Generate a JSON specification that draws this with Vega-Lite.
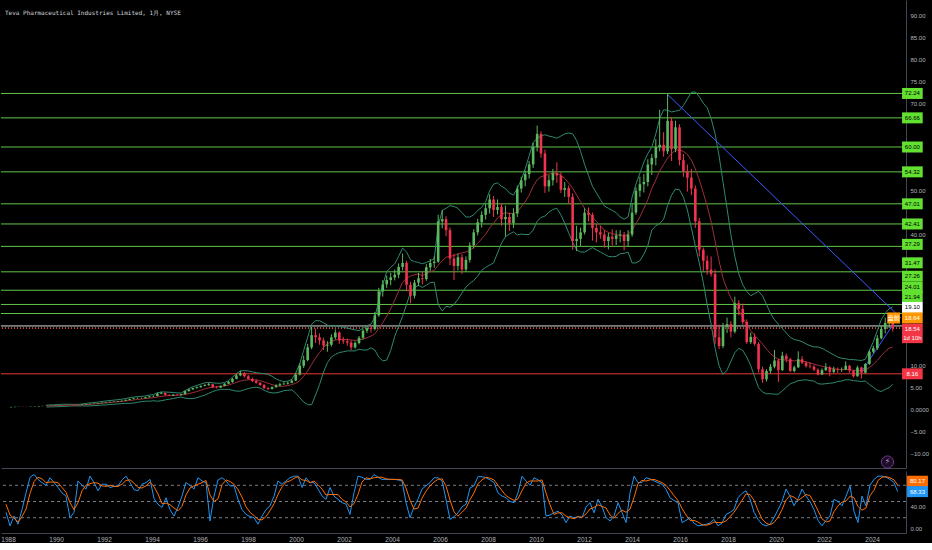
{
"$schema":"https://vega.github.io/schema/vega-lite/v6.json",
"background":"#000000",
"padding":0,
"spacing":0,
"config":{"view":{"stroke":null},"axis":{"grid":false,"ticks":false,"labelColor":"#b2b5be","labelFont":"Liberation Sans","labelFontSize":6,"domainColor":"#434651"}},
"datasets":{
"px":[
{"t":"1987-12","o":0.5,"h":0.62,"l":0.48,"c":0.55,"k":30,"d":45},
{"t":"1988-02","o":0.55,"h":0.64,"l":0.53,"c":0.6,"k":5,"d":25},
{"t":"1988-04","o":0.6,"h":0.66,"l":0.58,"c":0.62,"k":23,"d":19},
{"t":"1988-06","o":0.62,"h":0.64,"l":0.57,"c":0.6,"k":8,"d":12},
{"t":"1988-08","o":0.6,"h":0.63,"l":0.57,"c":0.6,"k":35,"d":22},
{"t":"1988-10","o":0.6,"h":0.67,"l":0.59,"c":0.65,"k":66,"d":36},
{"t":"1988-12","o":0.65,"h":0.73,"l":0.64,"c":0.7,"k":95,"d":65},
{"t":"1989-02","o":0.7,"h":0.8,"l":0.69,"c":0.78,"k":100,"d":87},
{"t":"1989-04","o":0.78,"h":0.84,"l":0.76,"c":0.82,"k":91,"d":95},
{"t":"1989-06","o":0.82,"h":0.89,"l":0.8,"c":0.87,"u":1.0,"m":0.78,"b":0.56,"k":85,"d":92},
{"t":"1989-08","o":0.87,"h":0.94,"l":0.85,"c":0.92,"u":1.05,"m":0.82,"b":0.6,"k":80,"d":85},
{"t":"1989-10","o":0.92,"h":0.99,"l":0.9,"c":0.97,"u":1.1,"m":0.86,"b":0.62,"k":94,"d":86},
{"t":"1989-12","o":0.97,"h":1.03,"l":0.95,"c":1.0,"u":1.15,"m":0.9,"b":0.65,"k":85,"d":86},
{"t":"1990-02","o":1.0,"h":1.05,"l":0.97,"c":1.02,"u":1.2,"m":0.94,"b":0.68,"k":76,"d":85},
{"t":"1990-04","o":1.02,"h":1.09,"l":1.0,"c":1.06,"u":1.2,"m":0.97,"b":0.74,"k":66,"d":76},
{"t":"1990-06","o":1.06,"h":1.12,"l":1.03,"c":1.08,"u":1.2,"m":1.0,"b":0.8,"k":60,"d":67},
{"t":"1990-08","o":1.08,"h":1.1,"l":0.95,"c":0.98,"u":1.18,"m":1.0,"b":0.82,"k":20,"d":48},
{"t":"1990-10","o":0.98,"h":1.05,"l":0.95,"c":1.02,"u":1.18,"m":1.01,"b":0.84,"k":30,"d":35},
{"t":"1990-12","o":1.02,"h":1.18,"l":1.0,"c":1.15,"u":1.25,"m":1.04,"b":0.83,"k":88,"d":48},
{"t":"1991-02","o":1.15,"h":1.28,"l":1.12,"c":1.25,"u":1.4,"m":1.1,"b":0.8,"k":80,"d":70},
{"t":"1991-04","o":1.25,"h":1.34,"l":1.2,"c":1.3,"u":1.5,"m":1.17,"b":0.84,"k":73,"d":80},
{"t":"1991-06","o":1.3,"h":1.4,"l":1.27,"c":1.35,"u":1.6,"m":1.24,"b":0.88,"k":97,"d":83},
{"t":"1991-08","o":1.35,"h":1.5,"l":1.32,"c":1.45,"u":1.7,"m":1.32,"b":0.94,"k":85,"d":85},
{"t":"1991-10","o":1.45,"h":1.6,"l":1.4,"c":1.55,"u":1.82,"m":1.42,"b":1.02,"k":70,"d":84},
{"t":"1991-12","o":1.55,"h":1.7,"l":1.5,"c":1.65,"u":1.95,"m":1.5,"b":1.05,"k":82,"d":79},
{"t":"1992-02","o":1.65,"h":1.8,"l":1.6,"c":1.75,"u":2.05,"m":1.6,"b":1.15,"k":82,"d":78},
{"t":"1992-04","o":1.75,"h":1.86,"l":1.68,"c":1.8,"u":2.15,"m":1.68,"b":1.2,"k":76,"d":80},
{"t":"1992-06","o":1.8,"h":1.96,"l":1.75,"c":1.9,"u":2.25,"m":1.76,"b":1.27,"k":78,"d":78},
{"t":"1992-08","o":1.9,"h":2.08,"l":1.85,"c":2.0,"u":2.35,"m":1.85,"b":1.35,"k":79,"d":78},
{"t":"1992-10","o":2.0,"h":2.28,"l":1.95,"c":2.2,"u":2.5,"m":1.95,"b":1.4,"k":90,"d":82},
{"t":"1992-12","o":2.2,"h":2.5,"l":2.15,"c":2.4,"u":2.7,"m":2.05,"b":1.4,"k":97,"d":89},
{"t":"1993-02","o":2.4,"h":2.68,"l":2.32,"c":2.55,"u":2.85,"m":2.17,"b":1.5,"k":85,"d":90},
{"t":"1993-04","o":2.55,"h":2.75,"l":2.45,"c":2.6,"u":2.95,"m":2.3,"b":1.65,"k":72,"d":84},
{"t":"1993-06","o":2.6,"h":2.72,"l":2.45,"c":2.6,"u":3.0,"m":2.4,"b":1.8,"k":70,"d":76},
{"t":"1993-08","o":2.6,"h":2.9,"l":2.55,"c":2.8,"u":3.1,"m":2.5,"b":1.9,"k":82,"d":75},
{"t":"1993-10","o":2.8,"h":3.1,"l":2.75,"c":3.0,"u":3.3,"m":2.6,"b":1.9,"k":85,"d":79},
{"t":"1993-12","o":3.0,"h":3.25,"l":2.9,"c":3.1,"u":3.4,"m":2.7,"b":2.0,"k":91,"d":86},
{"t":"1994-02","o":3.1,"h":3.9,"l":3.0,"c":3.6,"u":3.8,"m":2.85,"b":1.9,"k":55,"d":77},
{"t":"1994-04","o":3.6,"h":4.05,"l":3.5,"c":3.8,"u":4.0,"m":3.0,"b":2.0,"k":45,"d":64},
{"t":"1994-06","o":3.8,"h":3.85,"l":3.2,"c":3.3,"u":4.0,"m":3.1,"b":2.2,"k":39,"d":46},
{"t":"1994-08","o":3.3,"h":3.5,"l":3.1,"c":3.2,"u":3.95,"m":3.15,"b":2.35,"k":57,"d":47},
{"t":"1994-10","o":3.2,"h":3.55,"l":3.1,"c":3.4,"u":3.9,"m":3.2,"b":2.5,"k":35,"d":44},
{"t":"1994-12","o":3.4,"h":3.5,"l":3.2,"c":3.3,"u":3.8,"m":3.25,"b":2.7,"k":23,"d":38},
{"t":"1995-02","o":3.3,"h":3.6,"l":3.2,"c":3.5,"u":3.75,"m":3.3,"b":2.85,"k":40,"d":33},
{"t":"1995-04","o":3.5,"h":4.3,"l":3.45,"c":4.2,"u":4.3,"m":3.45,"b":2.6,"k":60,"d":41},
{"t":"1995-06","o":4.2,"h":4.7,"l":4.1,"c":4.6,"u":4.8,"m":3.65,"b":2.5,"k":85,"d":62},
{"t":"1995-08","o":4.6,"h":5.0,"l":4.5,"c":4.9,"u":5.2,"m":3.85,"b":2.5,"k":80,"d":75},
{"t":"1995-10","o":4.9,"h":5.3,"l":4.8,"c":5.1,"u":5.5,"m":4.1,"b":2.7,"k":73,"d":79},
{"t":"1995-12","o":5.1,"h":5.5,"l":5.0,"c":5.4,"u":5.8,"m":4.4,"b":3.0,"k":94,"d":82},
{"t":"1996-02","o":5.4,"h":5.8,"l":5.3,"c":5.6,"u":6.1,"m":4.7,"b":3.3,"k":88,"d":85},
{"t":"1996-04","o":5.6,"h":6.1,"l":5.4,"c":5.8,"u":6.2,"m":4.95,"b":3.7,"k":85,"d":89},
{"t":"1996-06","o":5.8,"h":5.9,"l":4.9,"c":5.1,"u":6.1,"m":5.1,"b":4.1,"k":14,"d":62},
{"t":"1996-08","o":5.1,"h":5.3,"l":4.8,"c":5.0,"u":6.0,"m":5.2,"b":4.4,"k":60,"d":50},
{"t":"1996-10","o":5.0,"h":5.5,"l":4.9,"c":5.4,"u":6.0,"m":5.3,"b":4.6,"k":90,"d":55},
{"t":"1996-12","o":5.4,"h":6.0,"l":5.3,"c":5.9,"u":6.2,"m":5.4,"b":4.6,"k":94,"d":81},
{"t":"1997-02","o":5.9,"h":6.5,"l":5.8,"c":6.3,"u":6.6,"m":5.6,"b":4.6,"k":88,"d":90},
{"t":"1997-04","o":6.3,"h":7.2,"l":6.1,"c":7.0,"u":7.4,"m":5.9,"b":4.4,"k":79,"d":87},
{"t":"1997-06","o":7.0,"h":8.1,"l":6.9,"c":7.8,"u":8.2,"m":6.2,"b":4.2,"k":79,"d":82},
{"t":"1997-08","o":7.8,"h":8.9,"l":7.6,"c":8.3,"u":8.8,"m":6.5,"b":4.2,"k":54,"d":72},
{"t":"1997-10","o":8.3,"h":8.6,"l":7.3,"c":7.6,"u":8.9,"m":6.7,"b":4.5,"k":35,"d":58},
{"t":"1997-12","o":7.6,"h":7.9,"l":6.8,"c":7.0,"u":8.8,"m":6.8,"b":4.8,"k":26,"d":40},
{"t":"1998-02","o":7.0,"h":7.3,"l":6.3,"c":6.5,"u":8.6,"m":6.8,"b":5.0,"k":22,"d":30},
{"t":"1998-04","o":6.5,"h":6.9,"l":5.9,"c":6.1,"u":8.4,"m":6.75,"b":5.1,"k":20,"d":24},
{"t":"1998-06","o":6.1,"h":6.3,"l":5.4,"c":5.6,"u":8.3,"m":6.6,"b":4.9,"k":8,"d":17},
{"t":"1998-08","o":5.6,"h":5.8,"l":4.7,"c":4.9,"u":8.2,"m":6.3,"b":4.4,"k":23,"d":16},
{"t":"1998-10","o":4.9,"h":5.2,"l":4.4,"c":4.7,"u":8.0,"m":6.0,"b":4.0,"k":35,"d":22},
{"t":"1998-12","o":4.7,"h":5.3,"l":4.6,"c":5.1,"u":7.6,"m":5.7,"b":3.8,"k":42,"d":33},
{"t":"1999-02","o":5.1,"h":5.8,"l":5.0,"c":5.5,"u":7.0,"m":5.4,"b":3.8,"k":60,"d":46},
{"t":"1999-04","o":5.5,"h":6.1,"l":5.3,"c":5.8,"u":6.6,"m":5.3,"b":4.0,"k":88,"d":63},
{"t":"1999-06","o":5.8,"h":6.3,"l":5.6,"c":5.9,"u":6.4,"m":5.35,"b":4.3,"k":82,"d":77},
{"t":"1999-08","o":5.9,"h":6.4,"l":5.7,"c":6.1,"u":6.5,"m":5.45,"b":4.4,"k":88,"d":86},
{"t":"1999-10","o":6.1,"h":6.9,"l":6.0,"c":6.6,"u":6.9,"m":5.7,"b":4.5,"k":94,"d":88},
{"t":"1999-12","o":6.6,"h":8.4,"l":6.5,"c":8.0,"u":8.3,"m":6.0,"b":3.7,"k":97,"d":93},
{"t":"2000-02","o":8.0,"h":10.6,"l":7.8,"c":10.0,"u":10.5,"m":6.6,"b":2.7,"k":97,"d":96},
{"t":"2000-04","o":10.0,"h":12.3,"l":9.5,"c":11.3,"u":13.5,"m":7.6,"b":1.7,"k":76,"d":90},
{"t":"2000-06","o":11.3,"h":15.0,"l":11.0,"c":14.2,"u":16.5,"m":8.8,"b":1.1,"k":94,"d":89},
{"t":"2000-08","o":14.2,"h":18.9,"l":13.8,"c":17.0,"u":19.5,"m":10.3,"b":1.1,"k":85,"d":85},
{"t":"2000-10","o":17.0,"h":18.5,"l":15.2,"c":16.5,"u":20.3,"m":11.8,"b":3.3,"k":85,"d":88},
{"t":"2000-12","o":16.5,"h":17.4,"l":14.8,"c":15.8,"u":20.3,"m":13.0,"b":5.7,"k":73,"d":81},
{"t":"2001-02","o":15.8,"h":16.4,"l":13.6,"c":14.6,"u":19.8,"m":14.2,"b":8.6,"k":60,"d":73},
{"t":"2001-04","o":14.6,"h":15.6,"l":13.2,"c":14.8,"u":19.3,"m":15.0,"b":10.7,"k":54,"d":62},
{"t":"2001-06","o":14.8,"h":17.2,"l":14.4,"c":16.5,"u":19.0,"m":15.5,"b":12.0,"k":76,"d":63},
{"t":"2001-08","o":16.5,"h":18.3,"l":16.0,"c":17.6,"u":19.2,"m":15.9,"b":12.6,"k":60,"d":63},
{"t":"2001-10","o":17.6,"h":17.9,"l":15.0,"c":15.8,"u":19.0,"m":16.0,"b":13.0,"k":54,"d":63},
{"t":"2001-12","o":15.8,"h":16.6,"l":15.0,"c":15.6,"u":18.8,"m":16.0,"b":13.2,"k":48,"d":54},
{"t":"2002-02","o":15.6,"h":16.2,"l":14.6,"c":15.3,"u":18.6,"m":16.0,"b":13.4,"k":45,"d":49},
{"t":"2002-04","o":15.3,"h":15.8,"l":13.6,"c":14.2,"u":18.4,"m":15.9,"b":13.4,"k":26,"d":40},
{"t":"2002-06","o":14.2,"h":15.6,"l":13.9,"c":15.2,"u":18.2,"m":15.8,"b":13.4,"k":66,"d":46},
{"t":"2002-08","o":15.2,"h":16.8,"l":14.9,"c":16.4,"u":18.0,"m":15.9,"b":13.8,"k":97,"d":63},
{"t":"2002-10","o":16.4,"h":18.4,"l":16.0,"c":18.0,"u":18.6,"m":16.1,"b":13.6,"k":95,"d":86},
{"t":"2002-12","o":18.0,"h":19.2,"l":17.5,"c":18.6,"u":19.2,"m":16.4,"b":13.6,"k":91,"d":94},
{"t":"2003-02","o":18.6,"h":19.3,"l":17.6,"c":18.4,"u":19.5,"m":16.8,"b":14.1,"k":91,"d":92},
{"t":"2003-04","o":18.4,"h":22.3,"l":18.1,"c":21.5,"u":21.0,"m":17.3,"b":13.6,"k":100,"d":94},
{"t":"2003-06","o":21.5,"h":27.8,"l":21.2,"c":27.0,"u":25.0,"m":18.5,"b":12.0,"k":95,"d":95},
{"t":"2003-08","o":27.0,"h":29.6,"l":25.8,"c":28.6,"u":28.5,"m":19.8,"b":11.1,"k":91,"d":95},
{"t":"2003-10","o":28.6,"h":30.6,"l":27.8,"c":29.6,"u":31.5,"m":21.4,"b":11.3,"k":91,"d":92},
{"t":"2003-12","o":29.6,"h":31.2,"l":28.4,"c":30.2,"u":32.5,"m":23.0,"b":13.5,"k":91,"d":91},
{"t":"2004-02","o":30.2,"h":32.0,"l":29.5,"c":30.8,"u":33.3,"m":25.0,"b":16.7,"k":91,"d":91},
{"t":"2004-04","o":30.8,"h":33.4,"l":30.0,"c":32.6,"u":35.0,"m":27.0,"b":19.0,"k":90,"d":91},
{"t":"2004-06","o":32.6,"h":35.6,"l":31.8,"c":33.5,"u":36.9,"m":29.1,"b":21.3,"k":88,"d":90},
{"t":"2004-08","o":33.5,"h":34.0,"l":27.0,"c":28.5,"u":36.0,"m":30.0,"b":24.0,"k":48,"d":75},
{"t":"2004-10","o":28.5,"h":29.2,"l":24.3,"c":26.0,"u":34.2,"m":30.5,"b":26.8,"k":20,"d":52},
{"t":"2004-12","o":26.0,"h":29.6,"l":25.4,"c":29.0,"u":33.8,"m":30.8,"b":27.8,"k":40,"d":36},
{"t":"2005-02","o":29.0,"h":31.2,"l":28.2,"c":30.0,"u":33.6,"m":31.0,"b":28.4,"k":55,"d":38},
{"t":"2005-04","o":30.0,"h":31.5,"l":28.6,"c":29.8,"u":33.3,"m":30.6,"b":27.9,"k":73,"d":56},
{"t":"2005-06","o":29.8,"h":33.2,"l":29.4,"c":32.5,"u":33.6,"m":31.0,"b":28.4,"k":79,"d":69},
{"t":"2005-08","o":32.5,"h":34.4,"l":31.6,"c":33.5,"u":34.0,"m":31.5,"b":29.0,"k":85,"d":79},
{"t":"2005-10","o":33.5,"h":35.0,"l":32.4,"c":33.8,"u":34.5,"m":31.8,"b":29.1,"k":94,"d":86},
{"t":"2005-12","o":33.8,"h":44.5,"l":33.5,"c":43.0,"u":42.0,"m":33.0,"b":24.0,"k":94,"d":91},
{"t":"2006-02","o":43.0,"h":45.6,"l":41.4,"c":43.5,"u":45.5,"m":34.0,"b":22.5,"k":88,"d":92},
{"t":"2006-04","o":43.5,"h":44.2,"l":39.6,"c":41.0,"u":46.0,"m":34.8,"b":23.6,"k":54,"d":79},
{"t":"2006-06","o":41.0,"h":41.6,"l":33.0,"c":34.5,"u":46.6,"m":35.0,"b":23.4,"k":17,"d":53},
{"t":"2006-08","o":34.5,"h":35.6,"l":29.6,"c":32.8,"u":46.4,"m":35.2,"b":24.0,"k":22,"d":31},
{"t":"2006-10","o":32.8,"h":35.6,"l":31.8,"c":34.8,"u":46.0,"m":35.6,"b":25.2,"k":29,"d":23},
{"t":"2006-12","o":34.8,"h":35.5,"l":31.0,"c":32.0,"u":45.0,"m":35.8,"b":26.6,"k":40,"d":30},
{"t":"2007-02","o":32.0,"h":35.0,"l":31.4,"c":34.2,"u":44.0,"m":36.0,"b":28.0,"k":45,"d":38},
{"t":"2007-04","o":34.2,"h":38.2,"l":33.6,"c":37.5,"u":44.0,"m":36.4,"b":28.8,"k":75,"d":53},
{"t":"2007-06","o":37.5,"h":41.2,"l":36.8,"c":40.5,"u":44.5,"m":37.0,"b":29.5,"k":79,"d":66},
{"t":"2007-08","o":40.5,"h":43.6,"l":39.8,"c":42.8,"u":45.5,"m":38.0,"b":30.5,"k":96,"d":83},
{"t":"2007-10","o":42.8,"h":45.3,"l":41.6,"c":44.5,"u":46.2,"m":39.0,"b":31.8,"k":96,"d":90},
{"t":"2007-12","o":44.5,"h":47.0,"l":43.4,"c":46.0,"u":47.5,"m":40.0,"b":32.5,"k":94,"d":95},
{"t":"2008-02","o":46.0,"h":49.2,"l":44.8,"c":48.0,"u":50.0,"m":41.5,"b":33.0,"k":90,"d":93},
{"t":"2008-04","o":48.0,"h":48.8,"l":44.0,"c":45.6,"u":51.5,"m":42.5,"b":33.5,"k":85,"d":90},
{"t":"2008-06","o":45.6,"h":48.0,"l":44.6,"c":46.3,"u":51.8,"m":43.8,"b":35.8,"k":66,"d":80},
{"t":"2008-08","o":46.3,"h":47.2,"l":42.0,"c":43.5,"u":51.0,"m":44.5,"b":38.0,"k":60,"d":70},
{"t":"2008-10","o":43.5,"h":46.6,"l":39.5,"c":44.0,"u":50.5,"m":45.0,"b":39.5,"k":57,"d":61},
{"t":"2008-12","o":44.0,"h":45.0,"l":40.8,"c":42.6,"u":49.5,"m":44.8,"b":40.1,"k":50,"d":56},
{"t":"2009-02","o":42.6,"h":46.0,"l":41.5,"c":44.8,"u":49.0,"m":44.8,"b":40.6,"k":48,"d":52},
{"t":"2009-04","o":44.8,"h":51.2,"l":44.0,"c":50.5,"u":50.5,"m":45.2,"b":39.9,"k":66,"d":55},
{"t":"2009-06","o":50.5,"h":53.2,"l":49.6,"c":52.4,"u":52.5,"m":46.3,"b":40.1,"k":97,"d":70},
{"t":"2009-08","o":52.4,"h":54.6,"l":51.0,"c":53.8,"u":55.0,"m":47.5,"b":40.0,"k":88,"d":84},
{"t":"2009-10","o":53.8,"h":56.8,"l":52.8,"c":56.0,"u":58.0,"m":49.0,"b":40.0,"k":80,"d":88},
{"t":"2009-12","o":56.0,"h":61.0,"l":55.2,"c":60.0,"u":61.0,"m":51.0,"b":41.0,"k":94,"d":88},
{"t":"2010-02","o":60.0,"h":64.9,"l":59.0,"c":63.0,"u":62.0,"m":52.5,"b":43.0,"k":90,"d":88},
{"t":"2010-04","o":63.0,"h":63.6,"l":57.5,"c":58.5,"u":62.5,"m":53.2,"b":43.9,"k":85,"d":90},
{"t":"2010-06","o":58.5,"h":59.4,"l":49.5,"c":51.0,"u":62.8,"m":53.5,"b":44.2,"k":23,"d":66},
{"t":"2010-08","o":51.0,"h":53.6,"l":49.8,"c":52.4,"u":62.5,"m":53.8,"b":45.1,"k":25,"d":44},
{"t":"2010-10","o":52.4,"h":55.0,"l":51.2,"c":54.0,"u":62.3,"m":54.0,"b":45.7,"k":29,"d":26},
{"t":"2010-12","o":54.0,"h":56.5,"l":51.8,"c":53.5,"u":62.0,"m":54.0,"b":46.0,"k":32,"d":29},
{"t":"2011-02","o":53.5,"h":54.2,"l":49.5,"c":50.2,"u":62.5,"m":53.5,"b":44.5,"k":25,"d":29},
{"t":"2011-04","o":50.2,"h":52.0,"l":48.6,"c":50.6,"u":63.0,"m":52.8,"b":42.6,"k":11,"d":23},
{"t":"2011-06","o":50.6,"h":51.2,"l":47.0,"c":48.6,"u":63.2,"m":51.8,"b":40.4,"k":23,"d":20},
{"t":"2011-08","o":48.6,"h":49.4,"l":36.5,"c":38.5,"u":63.0,"m":50.6,"b":38.2,"k":20,"d":18},
{"t":"2011-10","o":38.5,"h":42.0,"l":36.2,"c":39.0,"u":61.5,"m":49.0,"b":36.5,"k":22,"d":22},
{"t":"2011-12","o":39.0,"h":41.6,"l":37.4,"c":40.5,"u":59.0,"m":47.5,"b":36.0,"k":20,"d":21},
{"t":"2012-02","o":40.5,"h":46.0,"l":40.0,"c":45.0,"u":56.0,"m":46.0,"b":36.0,"k":40,"d":27},
{"t":"2012-04","o":45.0,"h":46.2,"l":43.0,"c":44.5,"u":53.5,"m":45.0,"b":36.5,"k":48,"d":36},
{"t":"2012-06","o":44.5,"h":45.0,"l":38.6,"c":41.5,"u":51.0,"m":44.0,"b":37.0,"k":29,"d":39},
{"t":"2012-08","o":41.5,"h":42.4,"l":38.2,"c":40.5,"u":49.5,"m":43.0,"b":36.5,"k":54,"d":44},
{"t":"2012-10","o":40.5,"h":42.0,"l":39.0,"c":40.0,"u":48.0,"m":42.0,"b":36.0,"k":40,"d":41},
{"t":"2012-12","o":40.0,"h":41.0,"l":37.0,"c":38.5,"u":46.5,"m":41.0,"b":35.5,"k":20,"d":38},
{"t":"2013-02","o":38.5,"h":40.4,"l":36.6,"c":39.5,"u":46.0,"m":40.5,"b":35.0,"k":14,"d":25},
{"t":"2013-04","o":39.5,"h":41.2,"l":37.5,"c":39.0,"u":45.5,"m":40.2,"b":34.9,"k":23,"d":19},
{"t":"2013-06","o":39.0,"h":41.0,"l":37.6,"c":39.8,"u":45.0,"m":40.0,"b":35.0,"k":48,"d":28},
{"t":"2013-08","o":39.8,"h":41.0,"l":38.2,"c":40.0,"u":44.0,"m":39.8,"b":35.6,"k":30,"d":34},
{"t":"2013-10","o":40.0,"h":40.6,"l":36.4,"c":38.5,"u":43.5,"m":39.6,"b":35.7,"k":11,"d":30},
{"t":"2013-12","o":38.5,"h":41.0,"l":37.2,"c":40.0,"u":44.0,"m":40.0,"b":36.0,"k":66,"d":36},
{"t":"2014-02","o":40.0,"h":47.0,"l":39.5,"c":45.0,"u":48.5,"m":41.0,"b":33.5,"k":97,"d":58},
{"t":"2014-04","o":45.0,"h":50.8,"l":44.5,"c":50.0,"u":51.5,"m":42.5,"b":33.5,"k":85,"d":83},
{"t":"2014-06","o":50.0,"h":53.2,"l":48.6,"c":51.5,"u":54.0,"m":44.0,"b":34.0,"k":85,"d":89},
{"t":"2014-08","o":51.5,"h":53.8,"l":49.6,"c":52.0,"u":56.5,"m":46.0,"b":35.5,"k":94,"d":88},
{"t":"2014-10","o":52.0,"h":57.2,"l":51.0,"c":56.0,"u":58.5,"m":48.0,"b":37.5,"k":92,"d":90},
{"t":"2014-12","o":56.0,"h":58.4,"l":53.6,"c":57.5,"u":60.0,"m":50.5,"b":41.0,"k":88,"d":91},
{"t":"2015-02","o":57.5,"h":61.8,"l":55.8,"c":60.0,"u":63.0,"m":52.5,"b":42.0,"k":85,"d":88},
{"t":"2015-04","o":60.0,"h":68.5,"l":59.0,"c":60.5,"u":66.5,"m":54.5,"b":42.5,"k":82,"d":85},
{"t":"2015-06","o":60.5,"h":63.4,"l":57.8,"c":59.0,"u":68.5,"m":56.0,"b":43.5,"k":73,"d":80},
{"t":"2015-08","o":59.0,"h":72.24,"l":58.4,"c":66.0,"u":68.4,"m":57.5,"b":46.6,"k":57,"d":71},
{"t":"2015-10","o":66.0,"h":66.8,"l":56.8,"c":59.5,"u":68.0,"m":58.5,"b":49.0,"k":52,"d":61},
{"t":"2015-12","o":59.5,"h":66.0,"l":58.8,"c":64.5,"u":68.2,"m":59.3,"b":50.4,"k":48,"d":52},
{"t":"2016-02","o":64.5,"h":65.2,"l":55.8,"c":57.0,"u":68.4,"m":59.3,"b":50.2,"k":11,"d":37},
{"t":"2016-04","o":57.0,"h":58.4,"l":53.2,"c":54.5,"u":69.5,"m":59.0,"b":48.5,"k":15,"d":25},
{"t":"2016-06","o":54.5,"h":56.0,"l":49.8,"c":53.0,"u":71.0,"m":58.3,"b":45.6,"k":20,"d":15},
{"t":"2016-08","o":53.0,"h":55.0,"l":49.0,"c":50.5,"u":72.5,"m":57.0,"b":41.5,"k":10,"d":15},
{"t":"2016-10","o":50.5,"h":51.2,"l":41.5,"c":43.0,"u":72.6,"m":55.0,"b":37.4,"k":5,"d":12},
{"t":"2016-12","o":43.0,"h":43.8,"l":35.0,"c":36.5,"u":71.5,"m":52.5,"b":33.5,"k":6,"d":7},
{"t":"2017-02","o":36.5,"h":37.0,"l":31.6,"c":34.0,"u":70.0,"m":49.5,"b":29.0,"k":8,"d":6},
{"t":"2017-04","o":34.0,"h":35.2,"l":30.8,"c":32.0,"u":69.0,"m":46.5,"b":24.0,"k":10,"d":8},
{"t":"2017-06","o":32.0,"h":35.0,"l":30.4,"c":31.0,"u":66.5,"m":43.0,"b":19.5,"k":17,"d":12},
{"t":"2017-08","o":31.0,"h":32.0,"l":15.0,"c":16.5,"u":63.0,"m":38.5,"b":14.0,"k":5,"d":11},
{"t":"2017-10","o":16.5,"h":19.4,"l":13.8,"c":14.5,"u":58.0,"m":34.0,"b":10.0,"k":10,"d":11},
{"t":"2017-12","o":14.5,"h":19.8,"l":14.0,"c":18.9,"u":52.0,"m":30.0,"b":8.0,"k":26,"d":14},
{"t":"2018-02","o":18.9,"h":21.0,"l":17.5,"c":19.5,"u":46.0,"m":27.5,"b":9.0,"k":30,"d":22},
{"t":"2018-04","o":19.5,"h":20.2,"l":16.5,"c":17.8,"u":40.0,"m":25.5,"b":11.0,"k":35,"d":30},
{"t":"2018-06","o":17.8,"h":25.8,"l":17.4,"c":24.3,"u":35.0,"m":24.0,"b":13.0,"k":57,"d":41},
{"t":"2018-08","o":24.3,"h":25.0,"l":21.5,"c":23.0,"u":31.0,"m":22.5,"b":14.0,"k":65,"d":52},
{"t":"2018-10","o":23.0,"h":24.2,"l":19.4,"c":20.0,"u":28.5,"m":21.0,"b":13.5,"k":70,"d":64},
{"t":"2018-12","o":20.0,"h":20.6,"l":15.0,"c":15.4,"u":27.0,"m":19.5,"b":12.0,"k":55,"d":63},
{"t":"2019-02","o":15.4,"h":17.6,"l":15.0,"c":16.6,"u":26.0,"m":18.0,"b":10.0,"k":30,"d":52},
{"t":"2019-04","o":16.6,"h":17.4,"l":14.6,"c":15.0,"u":26.5,"m":17.0,"b":7.5,"k":17,"d":34},
{"t":"2019-06","o":15.0,"h":15.4,"l":8.5,"c":9.2,"u":27.0,"m":16.0,"b":5.0,"k":8,"d":18},
{"t":"2019-08","o":9.2,"h":9.8,"l":6.1,"c":6.9,"u":26.0,"m":15.0,"b":4.0,"k":5,"d":10},
{"t":"2019-10","o":6.9,"h":9.2,"l":6.4,"c":8.8,"u":24.0,"m":13.8,"b":3.6,"k":8,"d":7},
{"t":"2019-12","o":8.8,"h":10.4,"l":8.2,"c":9.8,"u":22.0,"m":12.8,"b":3.6,"k":20,"d":11},
{"t":"2020-02","o":9.8,"h":13.6,"l":9.4,"c":11.2,"u":20.5,"m":12.0,"b":3.5,"k":35,"d":21},
{"t":"2020-04","o":11.2,"h":11.6,"l":6.3,"c":9.0,"u":19.5,"m":11.5,"b":3.5,"k":50,"d":35},
{"t":"2020-06","o":9.0,"h":13.2,"l":8.8,"c":12.3,"u":18.5,"m":11.4,"b":4.3,"k":73,"d":53},
{"t":"2020-08","o":12.3,"h":12.8,"l":10.8,"c":11.5,"u":17.5,"m":11.3,"b":5.1,"k":60,"d":61},
{"t":"2020-10","o":11.5,"h":11.8,"l":8.6,"c":8.8,"u":16.5,"m":11.2,"b":5.9,"k":42,"d":58},
{"t":"2020-12","o":8.8,"h":10.0,"l":8.5,"c":9.65,"u":16.0,"m":11.1,"b":6.2,"k":55,"d":52},
{"t":"2021-02","o":9.65,"h":13.3,"l":9.5,"c":11.5,"u":15.8,"m":11.2,"b":6.6,"k":73,"d":57},
{"t":"2021-04","o":11.5,"h":12.2,"l":10.4,"c":10.7,"u":15.5,"m":11.1,"b":6.7,"k":60,"d":63},
{"t":"2021-06","o":10.7,"h":11.0,"l":9.6,"c":9.9,"u":15.0,"m":10.9,"b":6.8,"k":50,"d":61},
{"t":"2021-08","o":9.9,"h":10.8,"l":9.4,"c":9.8,"u":14.6,"m":10.6,"b":6.6,"k":35,"d":48},
{"t":"2021-10","o":9.8,"h":10.2,"l":8.8,"c":9.1,"u":14.3,"m":10.4,"b":6.5,"k":15,"d":33},
{"t":"2021-12","o":9.1,"h":9.4,"l":7.8,"c":8.0,"u":14.3,"m":10.1,"b":5.9,"k":5,"d":18},
{"t":"2022-02","o":8.0,"h":9.4,"l":7.9,"c":9.0,"u":14.0,"m":9.9,"b":5.8,"k":15,"d":12},
{"t":"2022-04","o":9.0,"h":10.6,"l":8.8,"c":9.6,"u":13.5,"m":9.7,"b":5.9,"k":23,"d":14},
{"t":"2022-06","o":9.6,"h":9.9,"l":7.6,"c":8.6,"u":13.0,"m":9.5,"b":6.0,"k":54,"d":31},
{"t":"2022-08","o":8.6,"h":9.8,"l":8.3,"c":9.2,"u":12.5,"m":9.3,"b":6.1,"k":50,"d":42},
{"t":"2022-10","o":9.2,"h":9.6,"l":8.4,"c":9.1,"u":12.0,"m":9.2,"b":6.4,"k":42,"d":49},
{"t":"2022-12","o":9.1,"h":9.6,"l":8.6,"c":9.1,"u":11.7,"m":9.1,"b":6.5,"k":60,"d":51},
{"t":"2023-02","o":9.1,"h":11.0,"l":9.0,"c":10.0,"u":11.6,"m":9.2,"b":6.8,"k":79,"d":60},
{"t":"2023-04","o":10.0,"h":10.2,"l":8.4,"c":8.9,"u":11.4,"m":9.1,"b":6.8,"k":32,"d":57},
{"t":"2023-06","o":8.9,"h":9.0,"l":7.3,"c":7.6,"u":11.4,"m":9.0,"b":6.6,"k":11,"d":41},
{"t":"2023-08","o":7.6,"h":10.0,"l":7.5,"c":9.6,"u":11.3,"m":8.9,"b":6.5,"k":60,"d":34},
{"t":"2023-10","o":9.6,"h":9.8,"l":7.1,"c":8.4,"u":11.2,"m":8.8,"b":6.4,"k":42,"d":38},
{"t":"2023-12","o":8.4,"h":10.6,"l":8.2,"c":10.4,"u":11.5,"m":9.0,"b":6.5,"k":80,"d":61},
{"t":"2024-02","o":10.4,"h":13.6,"l":10.2,"c":13.2,"u":13.5,"m":9.6,"b":5.7,"k":91,"d":71},
{"t":"2024-04","o":13.2,"h":14.6,"l":12.8,"c":14.0,"u":15.5,"m":10.3,"b":5.1,"k":97,"d":89},
{"t":"2024-06","o":14.0,"h":17.0,"l":13.6,"c":16.3,"u":18.0,"m":11.2,"b":4.4,"k":97,"d":95},
{"t":"2024-08","o":16.3,"h":19.2,"l":16.0,"c":18.4,"u":20.5,"m":12.3,"b":4.1,"k":95,"d":96},
{"t":"2024-10","o":18.4,"h":21.0,"l":17.4,"c":19.8,"u":22.0,"m":13.3,"b":4.6,"k":91,"d":94},
{"t":"2024-12","o":19.8,"h":21.3,"l":18.6,"c":20.2,"u":23.0,"m":14.0,"b":5.0,"k":85,"d":90},
{"t":"2025-01-25","o":20.2,"h":20.8,"l":17.8,"c":18.54,"u":23.5,"m":14.3,"b":5.8,"k":68.33,"d":80.17}
],
"lv":[
{"v":72.24,"k":"g"},{"v":66.66,"k":"g"},{"v":60,"k":"g"},{"v":54.32,"k":"g"},{"v":47.01,"k":"g"},{"v":42.41,"k":"g"},{"v":37.29,"k":"g"},{"v":31.47,"k":"g"},{"v":27.26,"k":"g"},{"v":24.01,"k":"g"},{"v":21.94,"k":"g"},{"v":19.1,"k":"w"},{"v":18.64,"k":"o"},{"v":18.54,"k":"r"},{"v":8.16,"k":"s"}
],
"tl":[
{"t":"2015-07-15","v":72.24,"g":1},{"t":"2025-06-01","v":20.9,"g":1},
{"t":"2023-10-15","v":8.9,"g":2},{"t":"2025-03-10","v":20.3,"g":2}
],
"sl":[{"v":80.17,"k":"d"},{"v":68.33,"k":"k"}]
},
"vconcat":[
{
"width":905,"height":468,
"title":{"text":"Teva Pharmaceutical Industries Limited, 1月, NYSE","anchor":"start","frame":"group","offset":-16,"dx":4,"font":"DejaVu Sans Mono","fontSize":6,"fontWeight":"normal","color":"#d1d4dc"},
"layer":[
{"data":{"name":"lv"},"mark":{"type":"rule","strokeWidth":1},
"encoding":{
"y":{"field":"v","type":"quantitative","title":null,"scale":{"domain":[-13.37,93.6],"nice":false,"zero":false},
"axis":{"orient":"right","values":[90,85,80,75,70,50,40,10,5,0,-5,-10],"labelExpr":"datum.value == 0 ? '0.0000' : format(datum.value, '.2f')","labelPadding":4,"domainColor":"#434651"}},
"color":{"condition":[{"test":"datum.k=='w'","value":"#d8d8d8"},{"test":"datum.k=='o'","value":"#d6a46e"},{"test":"datum.k=='r'","value":"#f23645"},{"test":"datum.k=='s'","value":"#e53935"}],"value":"#62c648"},
"strokeDash":{"condition":{"test":"datum.k=='r' || datum.k=='o'","value":[1,2]},"value":[]}
}},
{"data":{"name":"px"},"mark":{"type":"line","color":"#2f8a72","strokeWidth":1},
"encoding":{"x":{"field":"t","type":"temporal","title":null,"scale":{"domain":[{"year":1987,"month":9,"date":16},{"year":2025,"month":6,"date":1}]},"axis":{"labels":false,"labelPadding":0,"domainColor":"#434651"}},
"y":{"field":"u","type":"quantitative","title":null}}},
{"data":{"name":"px"},"mark":{"type":"line","color":"#2f8a72","strokeWidth":1},
"encoding":{"x":{"field":"t","type":"temporal","title":null},"y":{"field":"b","type":"quantitative","title":null}}},
{"data":{"name":"px"},"mark":{"type":"line","color":"#9e2f38","strokeWidth":1},
"encoding":{"x":{"field":"t","type":"temporal","title":null},"y":{"field":"m","type":"quantitative","title":null}}},
{"data":{"name":"tl"},"mark":{"type":"line","color":"#3d5afe","strokeWidth":1},
"encoding":{"x":{"field":"t","type":"temporal","title":null},"y":{"field":"v","type":"quantitative","title":null},"detail":{"field":"g"}}},
{"data":{"name":"px"},"mark":{"type":"rule","strokeWidth":1},
"encoding":{"x":{"field":"t","type":"temporal","title":null},"y":{"field":"l","type":"quantitative","title":null},"y2":{"field":"h"},
"color":{"condition":{"test":"datum.c >= datum.o","value":"#5cb860"},"value":"#f0334e"}}},
{"data":{"name":"px"},"mark":{"type":"bar","width":2.6},
"encoding":{"x":{"field":"t","type":"temporal","title":null},"y":{"field":"o","type":"quantitative","title":null},"y2":{"field":"c"},
"color":{"condition":{"test":"datum.c >= datum.o","value":"#5cb860"},"value":"#f0334e"}}},
{"data":{"name":"lv"},"transform":[{"filter":"datum.k != 'r'"}],
"mark":{"type":"rule","strokeWidth":11,"strokeCap":"butt","clip":false,"yOffset":{"expr":"datum.v==37.29?-2:datum.v==31.47?-9:datum.v==27.26?-14:datum.v==24.01?-17:datum.v==21.94?-17:datum.v==19.1?-18.5:datum.v==18.64?-10:0"}},
"encoding":{"x":{"datum":{"year":2025,"month":6,"date":17},"type":"temporal"},"x2":{"datum":{"year":2026,"month":5,"date":1}},
"y":{"field":"v","type":"quantitative","title":null},
"color":{"condition":[{"test":"datum.k=='w'","value":"#ffffff"},{"test":"datum.k=='o'","value":"#ff9800"},{"test":"datum.k=='s'","value":"#f23645"}],"value":"#62e131"}}},
{"data":{"name":"lv"},"transform":[{"filter":"datum.k != 'r'"}],
"mark":{"type":"text","fontSize":6,"font":"Liberation Sans","align":"center","baseline":"middle","clip":false,"yOffset":{"expr":"datum.v==37.29?-2:datum.v==31.47?-9:datum.v==27.26?-14:datum.v==24.01?-17:datum.v==21.94?-17:datum.v==19.1?-18.5:datum.v==18.64?-10:0"}},
"encoding":{"x":{"datum":{"year":2025,"month":11,"date":23},"type":"temporal"},
"y":{"field":"v","type":"quantitative","title":null},
"text":{"field":"v","type":"quantitative","format":".2f"},
"color":{"condition":[{"test":"datum.k=='o' || datum.k=='s'","value":"#ffffff"}],"value":"#000000"}}},
{"data":{"name":"lv"},"transform":[{"filter":"datum.k == 'r'"}],
"mark":{"type":"rule","strokeWidth":19.5,"strokeCap":"butt","clip":false,"yOffset":5,"color":"#f23645"},
"encoding":{"x":{"datum":{"year":2025,"month":6,"date":17},"type":"temporal"},"x2":{"datum":{"year":2026,"month":5,"date":1}},
"y":{"field":"v","type":"quantitative","title":null}}},
{"data":{"name":"lv"},"transform":[{"filter":"datum.k == 'r'"}],
"mark":{"type":"text","fontSize":6,"font":"Liberation Sans","align":"center","baseline":"middle","clip":false,"yOffset":0.5,"color":"#ffffff"},
"encoding":{"x":{"datum":{"year":2025,"month":11,"date":23},"type":"temporal"},"y":{"field":"v","type":"quantitative","title":null},"text":{"field":"v","type":"quantitative","format":".2f"}}},
{"data":{"name":"lv"},"transform":[{"filter":"datum.k == 'r'"}],
"mark":{"type":"text","fontSize":6,"font":"Liberation Sans","align":"center","baseline":"middle","clip":false,"yOffset":10,"color":"#ffffff","text":"1d 10h"},
"encoding":{"x":{"datum":{"year":2025,"month":11,"date":23},"type":"temporal"},"y":{"field":"v","type":"quantitative","title":null}}},
{"data":{"name":"lv"},"transform":[{"filter":"datum.k == 'o'"}],
"mark":{"type":"rule","strokeWidth":11,"strokeCap":"butt","clip":false,"yOffset":-10,"color":"#ff9800"},
"encoding":{"x":{"datum":{"year":2024,"month":11,"date":1},"type":"temporal"},"x2":{"datum":{"year":2025,"month":5,"date":17}},
"y":{"field":"v","type":"quantitative","title":null}}},
{"data":{"name":"lv"},"transform":[{"filter":"datum.k == 'o'"}],
"mark":{"type":"text","fontSize":6,"font":"Noto Sans CJK SC","align":"center","baseline":"middle","clip":false,"yOffset":-10,"color":"#ffffff","text":"盘前"},
"encoding":{"x":{"datum":{"year":2025,"month":2,"date":8},"type":"temporal"},"y":{"field":"v","type":"quantitative","title":null}}},
{"data":{"values":[{"icon":"⚡"}]},"mark":{"type":"point","shape":"circle","size":150,"filled":true,"color":"#2a1538","stroke":"#9c4dcc","strokeWidth":1},
"encoding":{"x":{"datum":{"year":2024,"month":11,"date":5},"type":"temporal"},"y":{"datum":-12.0,"type":"quantitative"}}},
{"data":{"values":[{"icon":"⚡"}]},"mark":{"type":"text","fontSize":8,"color":"#ce93d8","align":"center","baseline":"middle","font":"DejaVu Sans"},
"encoding":{"x":{"datum":{"year":2024,"month":11,"date":5},"type":"temporal"},"y":{"datum":-12.0,"type":"quantitative"},"text":{"field":"icon"}}}
]
},
{
"width":905,"height":62,
"layer":[
{"data":{"values":[{"v":80},{"v":50},{"v":20}]},"mark":{"type":"rule","strokeDash":[3,3],"color":"#787b86","strokeWidth":1},
"encoding":{"y":{"field":"v","type":"quantitative","title":null,"scale":{"domain":[-8.3,106.5],"nice":false,"zero":false},
"axis":{"orient":"right","values":[0,40],"format":".2f","labelPadding":4,"domainColor":"#434651"}}}},
{"data":{"name":"px"},"mark":{"type":"line","color":"#2196f3","strokeWidth":1},
"encoding":{"x":{"field":"t","type":"temporal","title":null,"scale":{"domain":[{"year":1987,"month":9,"date":16},{"year":2025,"month":6,"date":1}]},
"axis":{"orient":"bottom","format":"%Y","tickCount":{"interval":"year","step":2},"labelFontSize":6.5,"labelPadding":3,"domainColor":"#434651","labelColor":"#b2b5be"}},
"y":{"field":"k","type":"quantitative","title":null}}},
{"data":{"name":"px"},"mark":{"type":"line","color":"#ff6d00","strokeWidth":1},
"encoding":{"x":{"field":"t","type":"temporal","title":null},"y":{"field":"d","type":"quantitative","title":null}}},
{"data":{"name":"sl"},"mark":{"type":"rule","strokeWidth":11,"strokeCap":"butt","clip":false,"yOffset":{"expr":"datum.k=='d' ? -4 : 0"}},
"encoding":{"x":{"datum":{"year":2025,"month":6,"date":17},"type":"temporal"},"x2":{"datum":{"year":2026,"month":5,"date":1}},
"y":{"field":"v","type":"quantitative","title":null},
"color":{"condition":{"test":"datum.k=='d'","value":"#ff6d00"},"value":"#2196f3"}}},
{"data":{"name":"sl"},"mark":{"type":"text","fontSize":6,"font":"Liberation Sans","align":"center","baseline":"middle","clip":false,"color":"#ffffff","yOffset":{"expr":"datum.k=='d' ? -4 : 0"}},
"encoding":{"x":{"datum":{"year":2025,"month":11,"date":23},"type":"temporal"},"y":{"field":"v","type":"quantitative","title":null},"text":{"field":"v","type":"quantitative","format":".2f"}}}
]
}
]
}
